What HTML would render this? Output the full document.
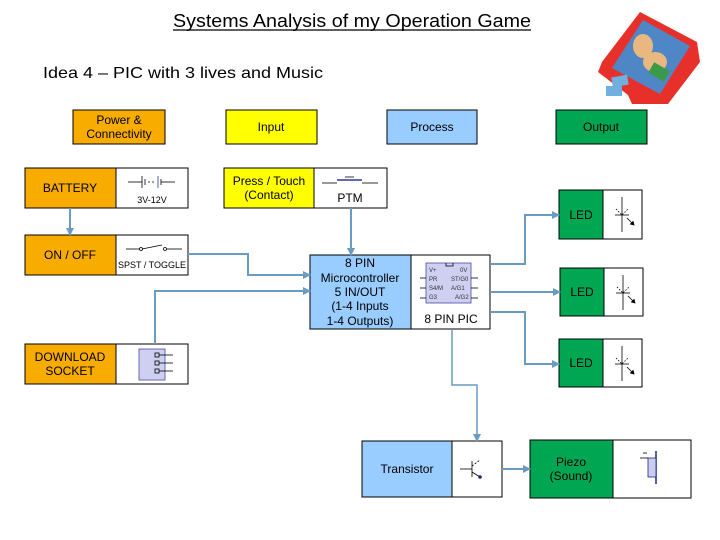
<!DOCTYPE html>
<html><head><meta charset="utf-8"><style>
html,body{margin:0;padding:0;background:#fff;}
svg{display:block;font-family:"Liberation Sans","DejaVu Sans",sans-serif;}
</style></head><body>
<svg width="720" height="540" viewBox="0 0 720 540" xmlns="http://www.w3.org/2000/svg">
<defs>
<marker id="ar" markerWidth="8" markerHeight="8" refX="7" refY="4" orient="auto" markerUnits="userSpaceOnUse">
<path d="M0,0 L8,4 L0,8 z" fill="#6a9bc3"/></marker>
</defs>
<text x="352" y="27" font-size="18" text-anchor="middle" textLength="358" lengthAdjust="spacingAndGlyphs">Systems Analysis of my Operation Game</text>
<line x1="173" y1="30" x2="531" y2="30" stroke="#000" stroke-width="1.3"/>
<text x="43" y="78" font-size="16" textLength="280" lengthAdjust="spacingAndGlyphs">Idea 4 – PIC with 3 lives and Music</text>

<!-- game image -->
<g>
<path d="M640,12 L697,42 L700,62 L668,104 L632,104 L628,95 L598,72 L602,62 Z" fill="#e8302a"/>
<path d="M643,20 L690,46 L660,94 L612,68 Z" fill="#4f86c6"/>
<ellipse cx="643" cy="46" rx="10" ry="12" fill="#e9b880"/>
<ellipse cx="655" cy="62" rx="12" ry="10" fill="#e9b880"/>
<rect x="650" y="66" width="18" height="12" fill="#3a9a4a" transform="rotate(30 659 72)"/>
<rect x="612" y="76" width="16" height="10" fill="#6fb0e0" transform="rotate(-10 620 81)"/>
<rect x="606" y="86" width="16" height="10" fill="#6fb0e0"/>
</g>

<g stroke="#000" stroke-width="1">
<rect x="73" y="110" width="92" height="34" fill="#f9ac00"/>
<rect x="226" y="110" width="91" height="34" fill="#ffff00"/>
<rect x="387" y="110" width="90" height="34" fill="#99ccff"/>
<rect x="556" y="110" width="91" height="34" fill="#00a651"/>
<rect x="25" y="168" width="91" height="40" fill="#f9ac00"/>
<rect x="116" y="168" width="72" height="40" fill="#fff"/>
<rect x="25" y="235" width="91" height="40" fill="#f9ac00"/>
<rect x="116" y="235" width="72" height="40" fill="#fff"/>
<rect x="25" y="344" width="91" height="40" fill="#f9ac00"/>
<rect x="116" y="344" width="72" height="40" fill="#fff"/>
<rect x="224" y="168" width="90" height="40" fill="#ffff00"/>
<rect x="314" y="168" width="73" height="40" fill="#fff"/>
<rect x="310" y="255" width="101" height="74" fill="#99ccff"/>
<rect x="411" y="255" width="79" height="74" fill="#fff"/>
<rect x="559" y="190" width="44" height="49" fill="#00a651"/>
<rect x="603" y="190" width="39" height="49" fill="#fff"/>
<rect x="560" y="268" width="44" height="48" fill="#00a651"/>
<rect x="604" y="268" width="39" height="48" fill="#fff"/>
<rect x="559" y="339" width="44" height="48" fill="#00a651"/>
<rect x="603" y="339" width="39" height="48" fill="#fff"/>
<rect x="362" y="441" width="90" height="56" fill="#99ccff"/>
<rect x="452" y="441" width="50" height="56" fill="#fff"/>
<rect x="530" y="440" width="83" height="58" fill="#00a651"/>
<rect x="613" y="440" width="78" height="58" fill="#fff"/>
</g>

<g font-size="12" text-anchor="middle" fill="#000">
<text x="119" y="124">Power &amp;</text>
<text x="119" y="138">Connectivity</text>
<text x="271" y="131">Input</text>
<text x="432" y="131">Process</text>
<text x="601" y="131">Output</text>
<text x="70" y="192">BATTERY</text>
<text x="70" y="259">ON / OFF</text>
<text x="70" y="361">DOWNLOAD</text>
<text x="70" y="375">SOCKET</text>
<text x="269" y="185">Press / Touch</text>
<text x="269" y="199">(Contact)</text>
<text x="350" y="202">PTM</text>
<text x="360" y="267">8 PIN</text>
<text x="360" y="282">Microcontroller</text>
<text x="360" y="296">5 IN/OUT</text>
<text x="360" y="310">(1-4 Inputs</text>
<text x="360" y="325">1-4 Outputs)</text>
<text x="451" y="323">8 PIN PIC</text>
<text x="581" y="219">LED</text>
<text x="582" y="296">LED</text>
<text x="581" y="367">LED</text>
<text x="407" y="473">Transistor</text>
<text x="571" y="466">Piezo</text>
<text x="571" y="480">(Sound)</text>
<text x="152" y="203" font-size="9">3V-12V</text>
<text x="152" y="268" font-size="9">SPST / TOGGLE</text>
</g>

<g stroke="#000" stroke-width="0.8" fill="none">
<line x1="128" y1="182" x2="142" y2="182"/><line x1="142" y1="176" x2="142" y2="188"/>
<line x1="145" y1="179" x2="145" y2="185"/><line x1="148" y1="182" x2="156" y2="182" stroke-dasharray="2,2"/>
<line x1="158" y1="176" x2="158" y2="188" stroke="#2a3a9a"/><line x1="161" y1="179" x2="161" y2="185"/>
<line x1="161" y1="182" x2="175" y2="182"/>
<line x1="126" y1="249" x2="140" y2="249"/><circle cx="141" cy="249" r="1.5"/>
<line x1="142" y1="249" x2="162" y2="245"/><circle cx="165" cy="249" r="1.5"/>
<line x1="167" y1="249" x2="182" y2="249"/>
<line x1="322" y1="183" x2="337" y2="183"/><line x1="337" y1="180" x2="362" y2="180" stroke="#2a3a9a" stroke-width="1.5"/>
<line x1="345" y1="177" x2="354" y2="177"/><line x1="362" y1="183" x2="378" y2="183"/>
<g id="led"><line x1="622" y1="197" x2="622" y2="232"/><line x1="615" y1="215" x2="629" y2="215"/>
<path d="M616,209 L622,215 L628,209" stroke-dasharray="1.5,1.5"/><line x1="627" y1="218" x2="634" y2="225"/><path d="M630,224 L634,225 L633,221" fill="#000"/></g>
<use href="#led" x="1" y="78"/>
<use href="#led" x="0" y="149"/>
<line x1="460" y1="469" x2="472" y2="469"/><line x1="472" y1="461" x2="472" y2="477"/>
<line x1="472" y1="466" x2="480" y2="460" stroke-dasharray="2,1.5"/><line x1="472" y1="472" x2="480" y2="477"/>
<circle cx="480" cy="477" r="1.8" fill="#1a2a7a" stroke="none"/>
<line x1="656" y1="451" x2="656" y2="484" stroke-width="1.5" stroke="#1a2a7a"/>
<rect x="648" y="458" width="8" height="19" fill="#ccccf0" stroke="#1a2a7a"/>
<line x1="640" y1="458" x2="648" y2="458"/><line x1="643" y1="453" x2="647" y2="453"/>
<rect x="139" y="349" width="26" height="31" fill="#cdd0f0" stroke="#4a4aa0"/>
<rect x="155" y="353" width="4" height="4"/><rect x="155" y="361" width="4" height="4"/><rect x="155" y="369" width="4" height="4"/>
<line x1="159" y1="355" x2="173" y2="355"/><line x1="159" y1="363" x2="173" y2="363"/><line x1="159" y1="371" x2="173" y2="371"/>
<rect x="426" y="263" width="45" height="40" fill="#cdd0f0" stroke="#4a4aa0"/>
<path d="M446,263 L446,266 L453,266 L453,263"/>
<line x1="420" y1="278" x2="426" y2="278"/><line x1="420" y1="288" x2="426" y2="288"/><line x1="420" y1="298" x2="426" y2="298"/>
<line x1="471" y1="278" x2="478" y2="278"/><line x1="471" y1="288" x2="478" y2="288"/><line x1="471" y1="298" x2="478" y2="298"/>
</g>
<g font-size="6" fill="#333">
<text x="429" y="272">V+</text><text x="460" y="272">0V</text>
<text x="429" y="281">PR</text><text x="451" y="281">ST/G0</text>
<text x="429" y="290">S4/M</text><text x="451" y="290">A/G1</text>
<text x="429" y="299">G3</text><text x="455" y="299">A/G2</text>
</g>

<g stroke="#6a9bc3" stroke-width="2" fill="none" marker-end="url(#ar)">
<path d="M70,208 L70,235"/>
<path d="M188,254 L248,254 L248,275 L310,275"/>
<path d="M155,344 L155,291 L310,291"/>
<path d="M351,208 L351,255"/>
<path d="M490,264 L525,264 L525,215 L559,215"/>
<path d="M490,292 L560,292"/>
<path d="M490,312 L525,312 L525,364 L559,364"/>
<path d="M452,329 L452,385 L477,385 L477,441" stroke-width="1.5"/>
<path d="M502,469 L530,469"/>
</g>
</svg>
</body></html>
